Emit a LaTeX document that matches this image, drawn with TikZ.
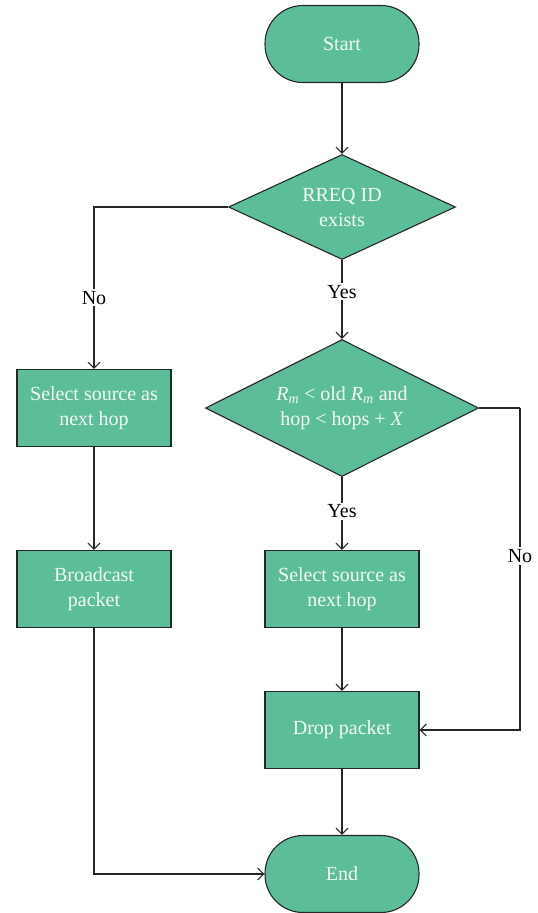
\documentclass[tikz,border=0pt]{standalone}
\usepackage{fontspec}
\setmainfont{Liberation Serif}
\usetikzlibrary{shapes.geometric,arrows.meta}
\definecolor{fillg}{RGB}{91,190,153}
\definecolor{txtc}{RGB}{244,250,244}
\newcommand{\myRm}{\textit{R}\textsubscript{\textit{m}}}
\begin{document}
\begin{tikzpicture}[x=1pt,y=-1pt,
  base/.style={draw=black!85, fill=fillg, line width=1.1pt, text=txtc,
    font=\fontsize{20}{25}\selectfont, align=center, inner sep=0pt},
  procbox/.style={base, rectangle, minimum width=154pt, minimum height=77pt},
  termbox/.style={base, rectangle, rounded corners=38pt, minimum width=154pt, minimum height=77pt},
  decbox/.style={base, diamond},
  lbl/.style={fill=white, text=black, font=\fontsize{20}{24}\selectfont, inner sep=2pt},
  arr/.style={draw=black!85, line width=1.1pt, -{Straight Barb[length=6pt,width=12pt]}},
  ln/.style={draw=black!85, line width=1.1pt}]
\useasboundingbox (0,0) rectangle (538,913);
\node[termbox] (start) at (342,44) {Start};
\node[decbox, aspect=2.16, minimum width=227pt, minimum height=105pt] (d1) at (342,207) {RREQ ID\\exists};
\node[decbox, aspect=2.0, minimum width=273pt, minimum height=137pt] (d2) at (342,408) {\myRm{} < old \myRm{} and\\hop < hops + \textit{X}};
\node[procbox] (sel1) at (94,408) {Select source as\\next hop};
\node[procbox] (bc) at (94,589) {Broadcast\\packet};
\node[procbox] (sel2) at (342,589) {Select source as\\next hop};
\node[procbox] (drop) at (342,730) {Drop packet};
\node[termbox] (end) at (342,874) {End};
\coordinate (c1) at (520,408);

\draw[arr] (start) -- (d1);
\draw[arr] (d1.west) -| node[lbl, pos=0.78] {No} (sel1.north);
\draw[arr] (d1.south) -- node[lbl, pos=0.4] {Yes} (d2.north);
\draw[arr] (d2.south) -- node[lbl, pos=0.47] {Yes} (sel2.north);
\draw[ln] (d2.east) -- (c1);
\draw[arr] (c1) |- node[lbl, pos=0.23] {No} (drop.east);
\draw[arr] (sel1) -- (bc);
\draw[arr] (bc.south) |- (end.west);
\draw[arr] (sel2) -- (drop);
\draw[arr] (drop) -- (end);
\end{tikzpicture}
\end{document}
